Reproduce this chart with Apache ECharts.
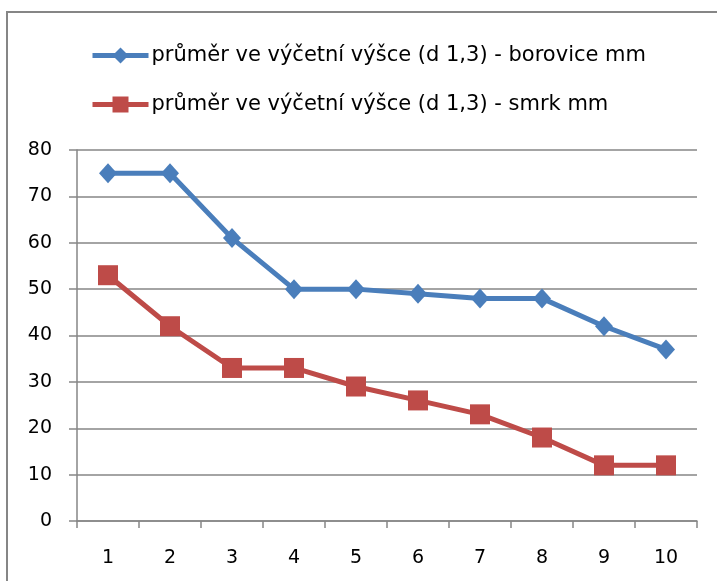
<!DOCTYPE html>
<html>
<head>
<meta charset="utf-8">
<script src="https://cdn.jsdelivr.net/npm/echarts@6/dist/echarts.min.js"></script>
<style>
  html, body { margin: 0; padding: 0; background: #fff; }
  #chart { width: 717px; height: 581px; }
</style>
</head>
<body>
<div id="chart"></div>
<script>
const categories = ['1', '2', '3', '4', '5', '6', '7', '8', '9', '10'];
const borovice = [75, 75, 61, 50, 50, 49, 48, 48, 42, 37];
const smrk = [53, 42, 33, 33, 29, 26, 23, 18, 12, 12];
const seriesNames = [
  'průměr ve výčetní výšce (d 1,3) - borovice mm',
  'průměr ve výčetní výšce (d 1,3) - smrk mm'
];

const font = '"DejaVu Sans", sans-serif';
const gridColor = '#868686';

const chart = echarts.init(document.getElementById('chart'), null, { renderer: 'canvas' });
chart.setOption({
  backgroundColor: '#fff',
  animation: false,
  graphic: [{
    type: 'rect',
    shape: { x: 7, y: 12, width: 740, height: 620 },
    style: { fill: 'none', stroke: gridColor, lineWidth: 2 },
    silent: true
  }],
  legend: {
    orient: 'vertical',
    left: 85,
    top: 40,
    itemWidth: 56,
    itemHeight: 20,
    itemGap: 28,
    lineStyle: { width: 5 },
    textStyle: { fontFamily: font, fontSize: 21, color: '#000', padding: [0, 0, 0, -2] },
    data: seriesNames
  },
  grid: { left: 77, right: 20, top: 150, bottom: 60 },
  xAxis: {
    type: 'category',
    data: categories,
    boundaryGap: true,
    axisLine: { lineStyle: { color: gridColor, width: 1.5 } },
    axisTick: { show: true, length: 7, lineStyle: { color: gridColor, width: 1.5 } },
    axisLabel: { margin: 28, fontFamily: font, fontSize: 19, color: '#000' },
    splitLine: { show: false }
  },
  yAxis: {
    type: 'value',
    min: 0,
    max: 80,
    interval: 10,
    axisLine: { show: true, lineStyle: { color: gridColor, width: 1.5 } },
    axisTick: { show: true, length: 8, lineStyle: { color: gridColor, width: 1.5 } },
    axisLabel: { margin: 25, fontFamily: font, fontSize: 19, color: '#000' },
    splitLine: { lineStyle: { color: gridColor, width: 1.5 } }
  },
  series: [
    {
      name: seriesNames[0],
      type: 'line',
      data: borovice,
      color: '#4A7EBB',
      symbol: 'diamond',
      symbolSize: [18, 20],
      lineStyle: { width: 5 },
      itemStyle: { color: '#4A7EBB' }
    },
    {
      name: seriesNames[1],
      type: 'line',
      data: smrk,
      color: '#BE4B48',
      symbol: 'rect',
      symbolSize: 20,
      lineStyle: { width: 5 },
      itemStyle: { color: '#BE4B48' }
    }
  ]
});
</script>
</body>
</html>
